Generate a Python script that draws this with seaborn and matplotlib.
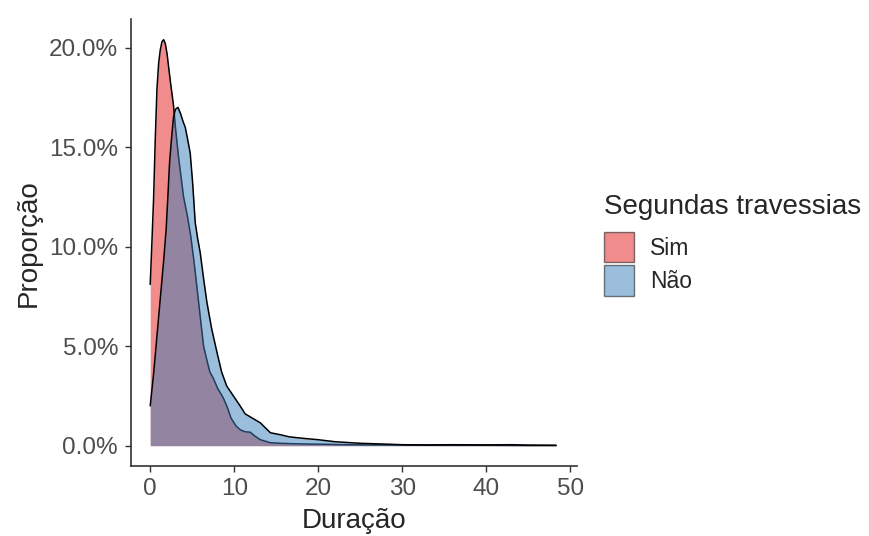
import matplotlib
matplotlib.use("Agg")
import matplotlib.pyplot as plt
from matplotlib.patches import Patch
from matplotlib.ticker import FuncFormatter
import pandas as pd
import seaborn as sns

# density curves (Duração vs proporção in %)
sim_x = [0.0, 0.2, 0.4, 0.6, 0.8, 1.0, 1.2, 1.4, 1.6, 1.8, 2.0, 2.2, 2.4, 2.77,
         3.0, 3.37, 3.7, 3.97, 4.4, 4.8, 5.2, 5.55, 6.0, 6.35, 6.8, 7.1, 7.5,
         8.0, 8.7, 9.2, 9.6, 10.2, 10.7, 11.3, 11.9, 12.4, 13.1, 14.3, 15.5,
         17, 19, 21, 23, 26, 30, 35, 40, 45, 48.3]
sim_y = [8.1, 10.2, 12.4, 15.4, 17.9, 19.2, 19.9, 20.3, 20.4, 20.2, 19.7, 19.0,
         18.3, 17.1, 16.0, 14.5, 13.4, 12.5, 11.6, 10.6, 9.3, 8.0, 6.3, 5.0,
         4.2, 3.7, 3.4, 2.9, 2.4, 1.9, 1.4, 1.0, 0.8, 0.7, 0.68, 0.5, 0.3,
         0.15, 0.12, 0.1, 0.08, 0.07, 0.05, 0.04, 0.03, 0.02, 0.02, 0.01, 0.01]

nao_x = [0.0, 0.4, 0.8, 1.2, 1.6, 1.9, 2.1, 2.3, 2.55, 2.77, 3.0, 3.3, 3.6,
         3.9, 4.17, 4.45, 4.76, 5.05, 5.36, 5.65, 5.95, 6.35, 6.75, 7.3, 7.94,
         8.5, 9.1, 9.9, 10.7, 11.3, 11.9, 12.5, 13.1, 13.7, 14.3, 15.5, 16.5,
         17.5, 18.7, 20, 22, 25, 28, 30, 33, 36, 40, 43, 45, 48.3]
nao_y = [2.0, 3.6, 5.5, 7.4, 9.3, 10.9, 12.5, 14.2, 15.5, 16.5, 16.9, 17.0,
         16.7, 16.3, 16.0, 15.4, 14.7, 13.2, 11.2, 10.4, 9.7, 8.4, 7.2, 5.9,
         4.7, 3.7, 3.0, 2.5, 2.0, 1.6, 1.45, 1.3, 1.15, 0.9, 0.65, 0.55, 0.45,
         0.4, 0.35, 0.3, 0.2, 0.12, 0.08, 0.05, 0.04, 0.05, 0.04, 0.05, 0.03, 0.02]

groups = ["Sim", "Não"]
colors = {"Sim": "#E41A1C", "Não": "#377EB8"}

df = pd.concat([
    pd.DataFrame({"Duração": sim_x, "Proporção": sim_y, "grupo": "Sim"}),
    pd.DataFrame({"Duração": nao_x, "Proporção": nao_y, "grupo": "Não"}),
])

sns.set_style("ticks")
plt.rcParams["font.family"] = ["Liberation Sans", "DejaVu Sans"]

fig = plt.figure(figsize=(8.69, 5.36), dpi=100)
ax = fig.add_axes([0.1511, 0.1306, 0.5130, 0.8332])

# each group: area first, then its outline (so Sim's line shows through Não)
z = 2
for g in groups:
    d = df[df["grupo"] == g]
    ax.fill_between(d["Duração"], 0, d["Proporção"], color=colors[g],
                    alpha=0.5, lw=0, zorder=z)
    sns.lineplot(x=d["Duração"].values, y=d["Proporção"].values, color="black",
                 lw=1.1, ax=ax, zorder=z + 1)
    z += 2

ax.set_xlim(-2.25, 50.8)
ax.set_ylim(-1.02, 21.42)
ax.set_xticks([0, 10, 20, 30, 40, 50])
ax.set_yticks([0, 5, 10, 15, 20])
ax.yaxis.set_major_formatter(FuncFormatter(lambda v, p: f"{v:.1f}%"))

sns.despine(ax=ax)
for s in ["left", "bottom"]:
    ax.spines[s].set_color("#333333")
    ax.spines[s].set_linewidth(1.2)
ax.tick_params(axis="both", length=4.5, width=1, color="#333333",
               labelsize=17.5, labelcolor="#4D4D4D")
ax.tick_params(axis="y", pad=5)
ax.tick_params(axis="x", pad=4)

ax.set_xlabel("Duração", fontsize=20, labelpad=6)
ax.set_ylabel("Proporção", fontsize=20, labelpad=5)

handles = [Patch(facecolor=colors[g], alpha=0.5, edgecolor="black", lw=1)
           for g in groups]
leg = ax.legend(handles, groups, title="Segundas travessias",
                loc="upper left", bbox_to_anchor=(0.695, 0.638),
                bbox_transform=fig.transFigure, frameon=False,
                fontsize=16.5, title_fontsize=20, alignment="left",
                handlelength=1.33, handleheight=1.68, handletextpad=0.7,
                labelspacing=0.12, borderpad=0, borderaxespad=0)
leg._legend_box.sep = 8.5  # gap between title and keys

fig.savefig("out.png", dpi=100)
